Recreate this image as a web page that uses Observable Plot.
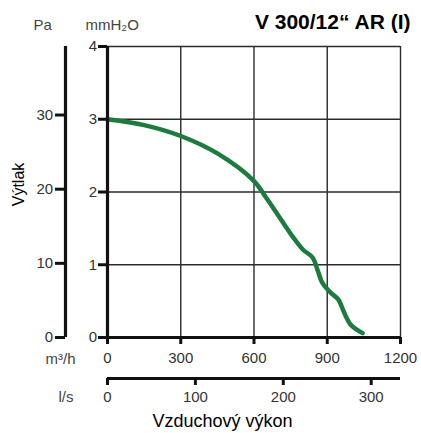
<!DOCTYPE html>
<html><head><meta charset="utf-8">
<script src="https://cdn.jsdelivr.net/npm/d3@7"></script>
<script src="https://cdn.jsdelivr.net/npm/@observablehq/plot@0.6"></script>
<style>body{margin:0;background:#fff}#chart{width:421px;height:433px}</style>
</head><body><div id="chart"></div>
<script>
// Fan curve V 300/12" AR (I): airflow (m³/h) vs pressure (mmH2O)
const airflow  = [0, 150, 300, 450, 600, 650, 709, 760, 800, 840, 860, 880, 913, 946, 967, 995, 1045];
const pressure = [3.0, 2.92, 2.77, 2.53, 2.15, 1.92, 1.63, 1.38, 1.21, 1.10, 0.93, 0.75, 0.62, 0.52, 0.36, 0.18, 0.06];
const m3hTicks = [0, 300, 600, 900, 1200];
const mmTicks  = [0, 1, 2, 3, 4];
const paTicks  = [0, 10, 20, 30];
const lsTicks  = [0, 100, 200, 300];
const PA_PER_MM = 9.81;
const M3H_PER_LS = 3.6;

const data = airflow.map((q, i) => ({q, p: pressure[i]}));
const font = "'Liberation Sans', Arial, Helvetica, sans-serif";
const tickFill = "#333";

const plot = Plot.plot({
  width: 421, height: 433,
  marginLeft: 107, marginRight: 21, marginTop: 46, marginBottom: 96,
  x: {domain: [0, 1200]},
  y: {domain: [0, 4]},
  style: {fontFamily: font, background: "#fff", overflow: "visible"},
  marks: [
    Plot.ruleX(m3hTicks.slice(1), {stroke: "#2b2b2b", strokeWidth: 1.4}),
    Plot.ruleY(mmTicks.slice(1), {stroke: "#2b2b2b", strokeWidth: 1.4}),
    Plot.line(data, {x: "q", y: "p", curve: "catmull-rom", stroke: "#1e7b3e", strokeWidth: 4.5, strokeLinecap: "round"}),
    Plot.ruleX([0], {stroke: "#111", strokeWidth: 3.2}),
    Plot.ruleY([0], {stroke: "#111", strokeWidth: 3.2}),
    Plot.axisY(mmTicks, {tickSize: 9, tickPadding: 1.3, strokeWidth: 3, stroke: "#111", fontSize: 15, fill: tickFill, label: null, tickFormat: d => String(d)}),
    Plot.axisX(m3hTicks, {tickSize: 7, tickPadding: 8.3, strokeWidth: 3, stroke: "#111", fontSize: 15, fill: tickFill, label: null, tickFormat: d => String(d)}),
    // Pa axis
    Plot.ruleX([0], {dx: -42, stroke: "#111", strokeWidth: 3.2}),
    Plot.axisY(paTicks.map(p => p / PA_PER_MM), {dx: -42, tickSize: 10, tickPadding: 2.3, strokeWidth: 3, stroke: "#111", fontSize: 15, fill: tickFill, label: null, tickFormat: d => String(Math.round(d * PA_PER_MM))}),
    // l/s axis
    Plot.ruleY([0], {dy: 41, stroke: "#111", strokeWidth: 3.2}),
    Plot.axisX(lsTicks.map(l => l * M3H_PER_LS), {dy: 41, tickSize: 7, tickPadding: 5.9, strokeWidth: 3, stroke: "#111", fontSize: 15, fill: tickFill, label: null, tickFormat: d => String(Math.round(d / M3H_PER_LS))}),
    // labels
    Plot.text(["Pa"], {frameAnchor: "top-left", dx: -74, dy: -21.8, textAnchor: "start", lineAnchor: "middle", fontSize: 15, fill: "#444"}),
    Plot.text(["mmH₂O"], {frameAnchor: "top-left", dx: -22, dy: -21.8, textAnchor: "start", lineAnchor: "middle", fontSize: 15, fill: "#444"}),
    Plot.text(["V 300/12“ AR (I)"], {frameAnchor: "top-right", dx: 10, dy: -24.4, textAnchor: "end", lineAnchor: "middle", fontSize: 21, fontWeight: "bold", fill: "#000"}),
    Plot.text(["m³/h"], {frameAnchor: "bottom-left", dx: -62, dy: 21.2, textAnchor: "start", lineAnchor: "middle", fontSize: 15, fill: "#444"}),
    Plot.text(["l/s"], {frameAnchor: "bottom-left", dx: -49, dy: 59.2, textAnchor: "start", lineAnchor: "middle", fontSize: 15, fill: "#444"}),
    Plot.text(["Vzduchový výkon"], {frameAnchor: "bottom", dx: -31.5, dy: 84.2, textAnchor: "middle", lineAnchor: "middle", fontSize: 18, fill: "#000"}),
    Plot.text(["Výtlak"], {frameAnchor: "left", dx: -88.6, dy: -7.5, rotate: -90, textAnchor: "middle", lineAnchor: "middle", fontSize: 16, fill: "#000"})
  ]
});
document.getElementById("chart").appendChild(plot);
</script>
</body></html>
